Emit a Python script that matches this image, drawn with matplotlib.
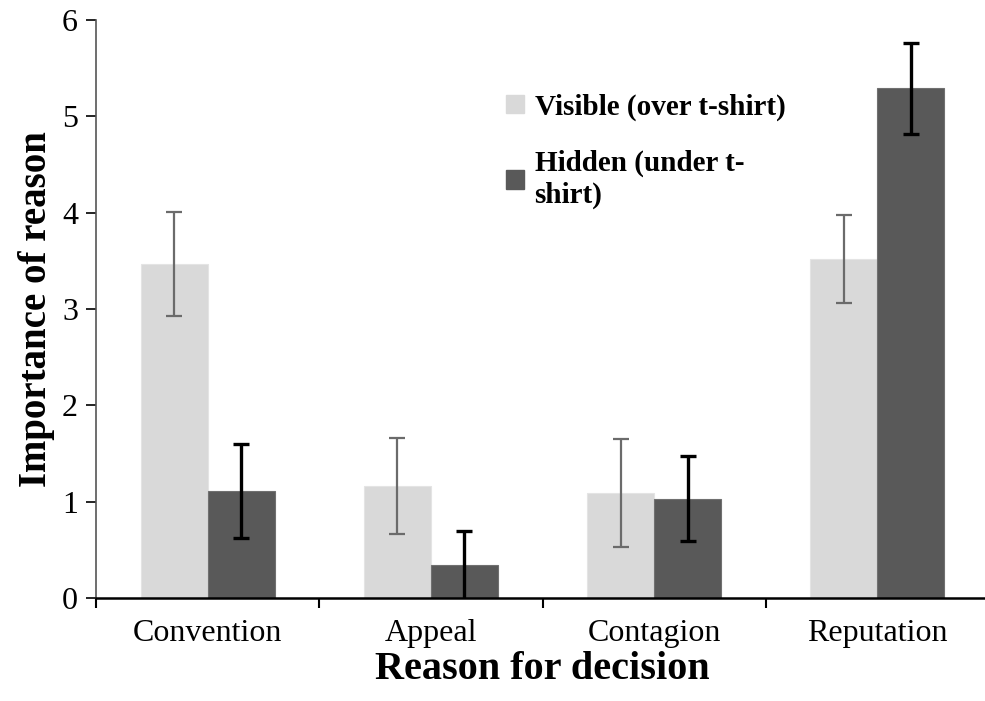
import numpy as np
import matplotlib
matplotlib.use("Agg")
import matplotlib.pyplot as plt
from matplotlib.patches import Patch

# Values
reasons = ["Convention", "Appeal", "Contagion", "Reputation"]
visible = [3.47, 1.16, 1.09, 3.52]
visible_err = [0.54, 0.50, 0.56, 0.46]
hidden = [1.11, 0.34, 1.03, 5.29]
hidden_err = [0.49, 0.36, 0.44, 0.47]

plt.rcParams['font.family'] = ['Liberation Serif', 'DejaVu Serif']

fig = plt.figure(figsize=(9.85, 7.01), dpi=100)
ax = fig.add_axes([96/985, 1-598/701, (989-96)/985, (598-20)/701])

x = np.arange(len(reasons))
w = 0.3
ax.bar(x - w/2, visible, w, color="#d9d9d9", edgecolor="#e4e4e4", linewidth=0.8, zorder=2)
ax.bar(x + w/2, hidden, w, color="#595959", edgecolor="#707070", linewidth=0.8, zorder=2)
ax.errorbar(x - w/2, visible, yerr=visible_err, fmt="none", ecolor="#6b6b6b",
            elinewidth=1.6, capsize=6, capthick=1.6, zorder=3)
ax.errorbar(x + w/2, hidden, yerr=hidden_err, fmt="none", ecolor="black",
            elinewidth=2.4, capsize=6, capthick=2.4, zorder=3)

ax.set_xlim(-0.5, len(reasons) - 0.5)
ax.set_ylim(0, 6)
ax.set_yticks(range(7))

ax.set_xticks(x)
ax.set_xticklabels(reasons)
ax.set_xticks(np.arange(len(reasons) + 1) - 0.5, minor=True)
ax.tick_params(axis="x", which="major", length=0, pad=15, labelsize=23)
ax.tick_params(axis="x", which="minor", length=7, width=1.5, direction="out")
ax.tick_params(axis="y", length=7, width=1.2, direction="out", pad=6, labelsize=23)

for s in ["top", "right"]:
    ax.spines[s].set_visible(False)
ax.spines["left"].set_color("#555555")
ax.spines["left"].set_linewidth(1.2)
ax.spines["bottom"].set_linewidth(1.8)

ax.set_xlabel("Reason for decision", fontsize=29, fontweight="bold", labelpad=2)
ax.set_ylabel("Importance of reason", fontsize=28, fontweight="bold", labelpad=5)

handles = [Patch(color="#d9d9d9"), Patch(color="#595959")]
leg = ax.legend(handles, ["Visible (over t-shirt)", "Hidden (under t-\nshirt)"],
                loc="upper left", bbox_to_anchor=(480/985, 1-67/701),
                bbox_transform=fig.transFigure, frameon=False,
                prop={"size": 21, "weight": "bold"}, handlelength=0.62,
                handleheight=0.62, handletextpad=0.35, labelspacing=1.0)

fig.savefig("out.png", dpi=100)
